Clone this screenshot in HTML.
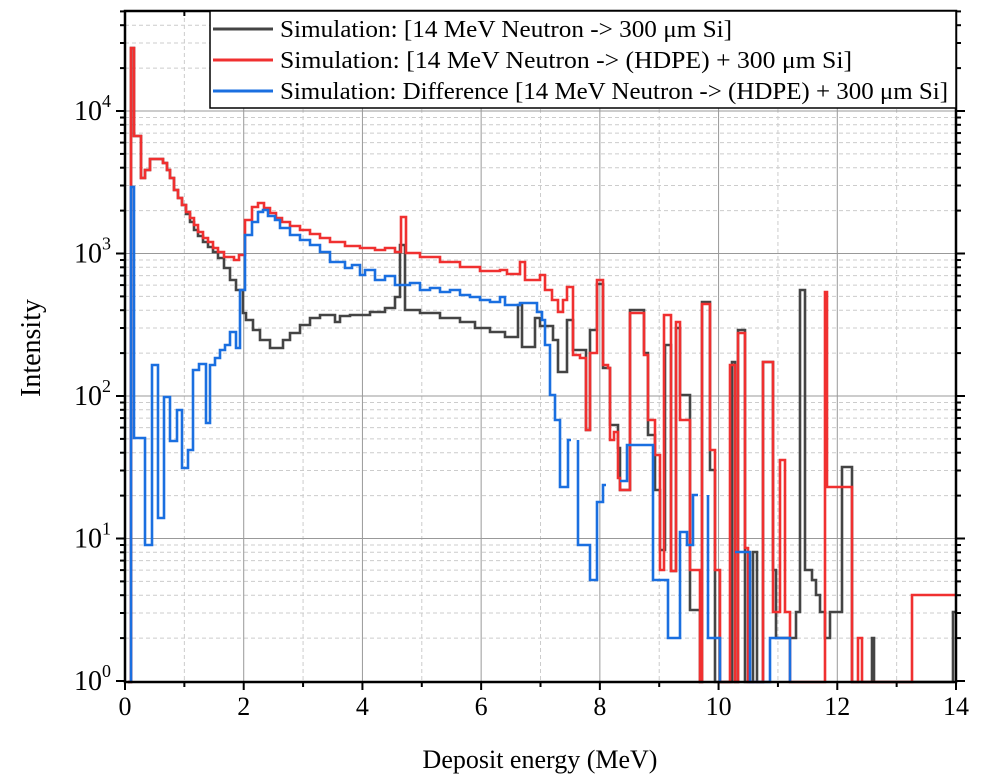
<!DOCTYPE html>
<html><head><meta charset="utf-8"><style>
body{margin:0;background:#fff;}
svg{display:block;font-family:"Liberation Serif",serif;}
</style></head><body>
<svg id="s" width="982" height="782" xmlns="http://www.w3.org/2000/svg"></svg>
<script>
const S=document.getElementById('s');
const L=125,R=956,T=11,B=682;
const X=v=>L+(R-L)*v/14;
const Y=v=>681-142.5*Math.log10(v);
let h='';
for(let i=1;i<14;i+=2)h+=`<line x1="${X(i)}" y1="${T}" x2="${X(i)}" y2="${B}" stroke="#ccc" stroke-dasharray="4,3"/>`;
for(let d=0;d<5;d++)for(let m=2;m<10;m++){let y=Y(m*Math.pow(10,d));if(y>T)h+=`<line x1="${L}" y1="${y}" x2="${R}" y2="${y}" stroke="#ccc" stroke-dasharray="4,3"/>`;}
for(let i=2;i<14;i+=2)h+=`<line x1="${X(i)}" y1="${T}" x2="${X(i)}" y2="${B}" stroke="#999"/>`;
for(let d=1;d<5;d++)h+=`<line x1="${L}" y1="${Y(Math.pow(10,d))}" x2="${R}" y2="${Y(Math.pow(10,d))}" stroke="#999"/>`;
function P(a){let s='M'+a[0][0]+' '+a[0][1];for(let i=1;i<a.length;i++){s+=' H'+a[i][0]+' V'+a[i][1];}return s;}
const black=[[128,682],[131,48],[134,136],[141,178],[145,170],[150,159],[163,163],[167,170],[170,178],[174,190],[178,198],[182,205],[186,214],[190,222],[194,230],[198,236],[203,242],[208,247],[213,252],[218,258],[224,268],[230,280],[236,290],[243,313],[246,320],[253,330],[260,340],[270,348],[283,340],[290,333],[300,325],[310,318],[320,315],[335,322],[340,316],[350,315],[370,312],[385,308],[395,297],[400,245],[405,310],[420,313],[440,318],[460,322],[475,328],[490,332],[505,337],[518,305],[522,347],[535,318],[540,326],[553,340],[558,372],[567,320],[573,350],[583,350],[586,430],[590,330],[597,284],[603,368],[608,368],[610,425],[614,425],[618,448],[620,490],[630,310],[644,353],[648,435],[655,490],[660,550],[665,345],[671,571],[676,328],[680,395],[690,610],[700,682],[702,302],[710,470],[715,682],[732,362],[735,682],[738,330],[745,682],[748,682],[750,682],[753,552],[757,682],[763,362],[773,570],[776,638],[783,638],[790,638],[796,612],[800,290],[805,570],[812,580],[816,595],[820,612],[825,638],[830,612],[835,612],[842,467],[852,682],[872,638],[874,682],[940,682],[953,612],[956,612]];
const red=[[128,682],[131,48],[134,136],[141,178],[145,170],[150,159],[163,163],[167,170],[170,178],[174,190],[178,198],[182,205],[186,212],[190,218],[194,225],[198,232],[203,238],[208,242],[213,248],[218,252],[224,257],[234,260],[239,255],[245,220],[252,207],[258,203],[264,208],[270,213],[276,218],[282,222],[290,226],[300,230],[310,234],[320,238],[330,242],[345,246],[360,248],[375,250],[385,248],[395,252],[401,217],[406,253],[420,257],[440,262],[460,267],[480,271],[500,270],[507,274],[520,262],[525,280],[540,275],[545,290],[552,300],[558,312],[563,300],[567,287],[573,355],[580,358],[586,430],[590,353],[597,280],[603,365],[608,368],[610,440],[614,432],[618,478],[620,490],[630,313],[644,355],[648,420],[655,455],[660,570],[664,315],[671,571],[676,322],[680,420],[690,570],[700,682],[702,304],[710,450],[715,570],[720,682],[730,365],[735,682],[738,333],[745,548],[748,682],[758,682],[763,362],[773,612],[780,460],[785,612],[790,682],[796,682],[800,682],[825,292],[827,487],[852,682],[858,638],[862,682],[912,595],[956,595]];
const blue1=[[131,682],[131,187],[134,438],[145,545],[152,365],[158,518],[164,397],[170,441],[177,410],[182,468],[188,450],[193,370],[199,364],[206,423],[210,365],[215,358],[220,350],[225,345],[230,332],[236,348],[240,290],[245,235],[252,222],[258,212],[263,210],[268,216],[275,220],[280,228],[290,235],[300,240],[310,245],[320,252],[330,262],[345,268],[352,265],[360,275],[365,270],[375,280],[385,276],[395,285],[410,283],[420,290],[430,288],[440,292],[450,290],[460,295],[470,297],[480,300],[490,302],[500,297],[505,305],[520,303],[537,312],[542,320],[545,345],[550,395],[555,420],[560,487],[567,487],[568,440],[571,440]];
const blue2=[[578,440],[578,545],[590,580],[597,502],[603,485],[606,485]];
const blue3=[[620,481],[626,481],[627,445],[635,445],[653,580],[660,580],[668,638],[680,638],[680,532],[687,545],[693,495],[698,495]];
const blue4=[[708,495],[708,638],[720,682]];
const blue5=[[735,552],[745,552],[750,682],[755,682],[770,638],[790,682]];
h+=`<g fill="none" stroke-width="2.6" stroke-linejoin="miter">`;
h+=`<path d="${P(black)}" stroke="#444"/>`;
h+=`<path d="${P(red)}" stroke="#f03030"/>`;
[blue1,blue2,blue3,blue4,blue5].forEach(b=>h+=`<path d="${P(b)}" stroke="#1a6fe0"/>`);
h+=`</g>`;
h+=`<rect x="${L}" y="${T}" width="${R-L}" height="${B-T}" fill="none" stroke="#000" stroke-width="2.5"/>`;
for(let i=0;i<=14;i++){let x=X(i),len=i%2==0?8:5;h+=`<line x1="${x}" y1="${B}" x2="${x}" y2="${B+len}" stroke="#000" stroke-width="2"/><line x1="${x}" y1="${T}" x2="${x}" y2="${T+len}" stroke="#000" stroke-width="2"/>`;
 if(i%2==0)h+=`<text x="${x}" y="${B+33}" font-size="26" text-anchor="middle">${i}</text>`;}
for(let d=0;d<5;d++){for(let m=1;m<10;m++){let y=Y(m*Math.pow(10,d));if(y<T)continue;let len=m==1?9:5;h+=`<line x1="${L-len}" y1="${y}" x2="${L}" y2="${y}" stroke="#000" stroke-width="2"/><line x1="${R}" y1="${y}" x2="${R+len}" y2="${y}" stroke="#000" stroke-width="2"/>`;}
 h+=`<text x="${L-14}" y="${Y(Math.pow(10,d))+9}" font-size="28" text-anchor="end">10<tspan dy="-13" font-size="18">${d}</tspan></text>`;}
h+=`<text x="540" y="768" font-size="26" text-anchor="middle">Deposit energy (MeV)</text>`;
h+=`<text transform="translate(40,348) rotate(-90)" font-size="28" text-anchor="middle">Intensity</text>`;
h+=`<rect x="210" y="11" width="746" height="97" fill="#fff" stroke="#000" stroke-width="1.5"/>`;
const lg=[["#444","Simulation: [14 MeV Neutron -&gt; 300 μm Si]"],["#f03030","Simulation: [14 MeV Neutron -&gt; (HDPE) + 300 μm Si]"],["#1a6fe0","Simulation: Difference [14 MeV Neutron -&gt; (HDPE) + 300 μm Si]"]];
lg.forEach((e,i)=>{let y=29+i*31;h+=`<line x1="213" y1="${y}" x2="273" y2="${y}" stroke="${e[0]}" stroke-width="3"/><text x="280" y="${y+8}" font-size="24" textLength="${[452,572,668][i]}" lengthAdjust="spacingAndGlyphs">${e[1]}</text>`;});
S.innerHTML=h;
</script>
</body></html>
